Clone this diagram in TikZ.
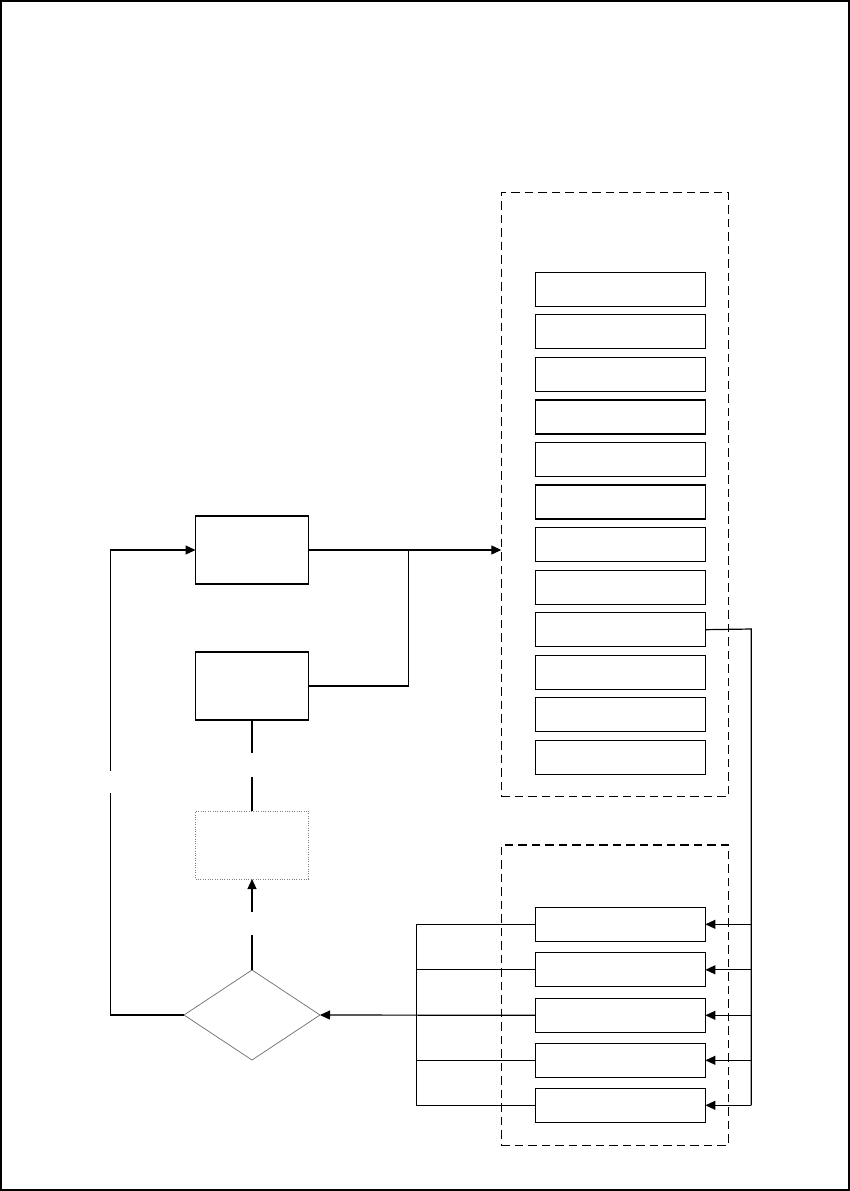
\documentclass[tikz,border=0pt]{standalone}
\usetikzlibrary{arrows.meta,shapes.geometric}
\begin{document}
\begin{tikzpicture}[x=1pt,y=-1pt,
  every node/.style={inner sep=0pt,outer sep=0pt},
  box/.style={draw,line width=1.2pt,rectangle,minimum width=113pt,minimum height=68pt},
  ubox/.style={draw,line width=1.2pt,rectangle,minimum width=170pt,minimum height=34pt},
  container/.style={draw,line width=1.2pt,dash pattern=on 8.5pt off 5pt,rectangle,minimum width=227pt},
  dotbox/.style={draw=gray,line width=0.8pt,dash pattern=on 1pt off 1.4pt,rectangle,minimum width=113pt,minimum height=68pt},
  decision/.style={draw=gray!85!black,line width=0.7pt,diamond,minimum width=136pt,minimum height=90pt},
  conn/.style={line width=1.2pt},
  arr/.style={conn,-{Triangle[length=10pt,width=9pt]}}]
\useasboundingbox (0,0) rectangle (850,1191);
\draw[line width=2pt] (1,1) rectangle (849,1190);
% left column
\node[box] (A) at (252,550) {};
\node[box] (B) at (252,686) {};
\node[dotbox] (C) at (252,845) {};
\node[decision] (D) at (252,1015) {};
% containers
\node[container,minimum height=604pt] (U) at (614.8,494.7) {};
\node[container,minimum height=300.3pt] (L) at (614.8,995.2) {};
% upper boxes
\foreach \i in {1,...,12}{
  \node[ubox] (u\i) at (620.4,{289.3+42.55*(\i-1)}) {};
}
% lower boxes
\node[ubox] (l1) at (620.4,924.3) {};
\node[ubox] (l2) at (620.4,969.8) {};
\node[ubox] (l3) at (620.4,1015.3) {};
\node[ubox] (l4) at (620.4,1060.3) {};
\node[ubox] (l5) at (620.4,1105.3) {};
% coordinates
\coordinate (j) at (408.3,550);
\coordinate (jb) at (408.3,686);
\coordinate (lb) at (110.3,1015);
\coordinate (lg1) at (110.3,793.3);
\coordinate (lg2) at (110.3,770.7);
\coordinate (lt) at (110.3,550);
\coordinate (bg1) at (252,753.3);
\coordinate (bg2) at (252,777.3);
\coordinate (dg1) at (252,935);
\coordinate (dg2) at (252,911.7);
\coordinate (bt) at (416.3,924.3);
\coordinate (bb) at (416.3,1105.3);
\coordinate (rt) at (751.3,629);
\coordinate (rb) at (751.3,1105.3);
% connectors
\draw[arr] (A.east) -- (A.east -| U.west);
\draw[conn] (B.east) -- (jb) -- (j);
\draw[conn] (D.west) -- (lb) -- (lg1);
\draw[arr] (lg2) -- (lt) -- (A.west);
\draw[conn] (B.south) -- (bg1);
\draw[conn] (bg2) -- (C.north);
\draw[conn] (D.north) -- (dg1);
\draw[arr] (dg2) -- (C.south);
% left bus
\draw[conn] (bt) -- (bb);
\foreach \i in {1,2,4,5}{ \draw[conn] (l\i.west) -- (l\i.west -| bt); }
\draw[arr] (l3.west) -- (D.east);
% right bus
\draw[conn] (u9.east) -- (rt) -- (rb);
\foreach \i in {1,...,5}{ \draw[arr] (l\i.east -| rt) -- (l\i.east); }
\end{tikzpicture}
\end{document}
